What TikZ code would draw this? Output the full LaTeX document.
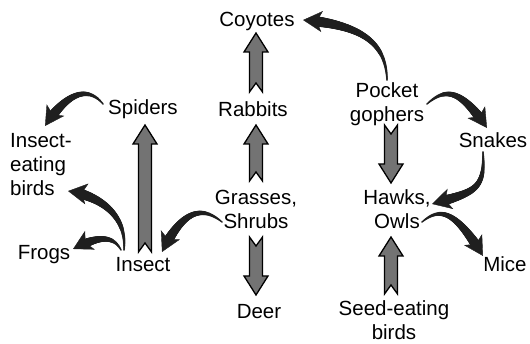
\documentclass[tikz,border=0pt]{standalone}
\usepackage{fontspec}
\setmainfont{Liberation Sans}
\usetikzlibrary{calc,arrows.meta,decorations.markings}
\tikzset{
 lbl/.style={inner sep=0pt, font=\fontsize{20.5}{24}\selectfont},
 blockarr/.style={draw=black, line width=1.3pt, fill=black!55, line join=miter},
 curvearr/.style={postaction={decorate}, decoration={markings,
   mark=between positions 0 and -15pt step 0.6pt with {\pgfmathsetmacro\rr{0.8+5*\pgfkeysvalueof{/pgf/decoration/mark info/distance from start}/\pgfdecoratedpathlength}\fill[black!88] (0,0) circle (\rr pt);},
   mark=at position 1 with {\arrow[black!88]{Stealth[length=19pt,width=21pt,inset=5pt]}}}},
}
\newcommand\blkarrow[2]{%
 \path[blockarr] let \p1=(#1), \p2=(#2), \n1={ifthenelse(\y2>\y1,1,-1)} in
   (\x1-6.5pt,\y1) -- (\x1,{\y1+(\n1)*9pt}) -- (\x1+6.5pt,\y1)
   -- (\x1+6.5pt,{\y2-(\n1)*19pt}) -- (\x1+12pt,{\y2-(\n1)*19pt}) -- (\x1,\y2)
   -- (\x1-12pt,{\y2-(\n1)*19pt}) -- (\x1-6.5pt,{\y2-(\n1)*19pt}) -- cycle;}
\begin{document}
\begin{tikzpicture}[x=1pt,y=-1pt]
\useasboundingbox (0,0) rectangle (530,344);
% nodes
\node[lbl,anchor=base] (coy) at (257,27) {Coyotes};
\node[lbl,anchor=base] (spid) at (143,115) {Spiders};
\node[lbl,anchor=base] (rab) at (253,117) {Rabbits};
\node[lbl,anchor=north,align=center] (pg) at (387,82) {Pocket\\gophers};
\node[lbl,anchor=base] (snk) at (493,148) {Snakes};
\node[lbl,anchor=north west,align=left] (ieb) at (10,133) {Insect-\\eating\\birds};
\node[lbl,anchor=north,align=center] (gs) at (256,190) {Grasses,\\Shrubs};
\node[lbl,anchor=north,align=center] (hk) at (397,189) {Hawks,\\Owls};
\node[lbl,anchor=base] (frogs) at (44,260) {Frogs};
\node[lbl,anchor=base] (ins) at (143,272) {Insect};
\node[lbl,anchor=base] (mice) at (505,272) {Mice};
\node[lbl,anchor=base] (deer) at (259,319) {Deer};
\node[lbl,anchor=north,align=center] (seed) at (394,300) {Seed-eating\\birds};
% block arrows
\blkarrow{$(rab.base)+(3,-25)$}{$(coy.base)+(-1,6)$}
\blkarrow{$(gs.north)+(0,-9)$}{$(rab.base)+(3,8)$}
\blkarrow{$(gs.north)+(0,47)$}{$(deer.base)+(-3,-24)$}
\blkarrow{$(ins.base)+(2,-20)$}{$(spid.base)+(2,10)$}
\blkarrow{$(pg.north)+(4,43)$}{$(hk.north)+(-6,-6)$}
\blkarrow{$(seed.north)+(-3,-6)$}{$(hk.north)+(-6,48)$}
% curved arrows
\path[curvearr] ($(spid.base)+(-40,-11)$) .. controls +(-13,-16) and +(25,-38) .. ($(ieb.north west)+(35,-7)$);
\path[curvearr] ($(ins.base)+(-19,-22)$) .. controls +(3,-35) and +(32,5) .. ($(ieb.north west)+(58,58)$);
\path[curvearr] ($(ins.base)+(-22,-22)$) .. controls +(-8,-15) and +(25,-13) .. ($(frogs.base)+(29,-11)$);
\path[curvearr] ($(gs.north)+(-34,32)$) .. controls +(-17,-14) and +(23,-47) .. ($(ins.base)+(19,-20)$);
\path[curvearr] ($(pg.north)+(0,-2)$) .. controls +(-1,-35) and +(62,5) .. ($(coy.base)+(46,-7)$);
\path[curvearr] ($(pg.north)+(40,22)$) .. controls +(18,-16) and +(-27,-40) .. ($(snk.base)+(-6,-20)$);
\path[curvearr] ($(snk.base)+(-10,4)$) .. controls +(2,38) and +(43,-12) .. ($(hk.north)+(35,15)$);
\path[curvearr] ($(hk.north)+(25,33)$) .. controls +(18,-15) and +(-28,-46) .. ($(mice.base)+(-22,-16)$);
\end{tikzpicture}
\end{document}
